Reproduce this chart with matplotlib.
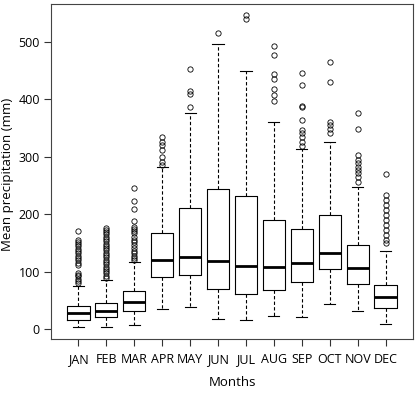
import matplotlib
matplotlib.use("Agg")
import matplotlib.pyplot as plt

# monthly precipitation box stats
months = ['JAN', 'FEB', 'MAR', 'APR', 'MAY', 'JUN', 'JUL', 'AUG', 'SEP', 'OCT', 'NOV', 'DEC']
q1 = [15.6, 21, 31, 91.5, 95, 69.6, 61.4, 68.3, 82.8, 105.4, 78, 37]
med = [28, 32, 47.5, 120, 126, 118.8, 110, 108.3, 115.3, 133, 107, 56.7]
q3 = [41, 46, 66, 168, 211.5, 243.5, 232, 190.6, 175, 198.8, 146, 77]
whislo = [4.5, 4, 7.5, 36, 38, 17.4, 16.7, 23.7, 21.4, 43.5, 31.8, 8.7]
whishi = [75, 86, 116.5, 282, 375.6, 496.7, 449.7, 360.5, 314, 326, 248, 135.6]
fliers = [
    [80, 84, 88, 92, 95, 97, 112, 116, 120, 124, 128, 132, 136, 140, 144, 148, 152, 155, 170],
    [89, 93, 97, 101, 105, 109, 113, 117, 121, 125, 129, 133, 137, 141, 145, 149, 153, 157,
     161, 165, 169, 173, 175.6],
    [120, 124, 128, 132, 136, 141, 147, 151, 156, 161, 167, 171, 175, 178, 189, 208.7, 223, 245],
    [285.7, 291.5, 300, 312, 320.5, 326, 334],
    [387, 410, 415, 452],
    [514.8],
    [539, 546.6],
    [397.6, 407, 417, 436, 444, 476.5, 492.7],
    [319, 326, 335, 341, 346.6, 364, 386.6, 389, 425, 445],
    [342, 349, 355, 361, 430.6, 465.4],
    [256.7, 265, 271, 277, 282.8, 288.5, 294.4, 302.6, 348.9, 376.7],
    [149.6, 155, 164, 172.7, 181, 190, 199, 207, 216, 225, 233.6, 269.6],
]
yticks = [0, 100, 200, 300, 400, 500]

stats = []
for i in range(len(months)):
    stats.append({'med': med[i], 'q1': q1[i], 'q3': q3[i],
                  'whislo': whislo[i], 'whishi': whishi[i], 'fliers': fliers[i]})

plt.rcParams['font.family'] = ['Open Sans', 'DejaVu Sans']
fig = plt.figure(figsize=(4.19, 3.93), dpi=100)
ax = fig.add_axes([0.1217, 0.1374, 0.864, 0.8524])

pos = list(range(1, len(months) + 1))
ax.bxp(stats, positions=pos, widths=0.8, showfliers=True,
       boxprops=dict(color='black', linewidth=0.8),
       medianprops=dict(color='black', linewidth=2.0),
       whiskerprops=dict(color='black', linewidth=0.8, linestyle=(0, (3, 2))),
       capprops=dict(color='black', linewidth=0.8),
       capwidths=0.4,
       flierprops=dict(marker='o', markerfacecolor='none', markeredgecolor='black',
                       markersize=3.8, markeredgewidth=0.6))

ax.set_xlim(0.02, 12.98)
ax.set_ylim(-17, 565.7)
ax.set_xticks(pos)
ax.set_xticklabels(months)
ax.set_yticks(yticks)
ax.tick_params(axis='both', labelsize=9, length=5, width=0.8, color='#333333', pad=3)
ax.tick_params(axis='x', pad=5)
for sp in ax.spines.values():
    sp.set_color('#444444')
    sp.set_linewidth(0.8)

ax.set_xlabel('Months', fontsize=9.5, va='center')
ax.set_ylabel('Mean precipitation (mm)', fontsize=9.5, va='center')
ax.xaxis.set_label_coords(0.5, -0.131)
ax.yaxis.set_label_coords(-0.119, 0.49)

fig.savefig('out.png', dpi=100)
